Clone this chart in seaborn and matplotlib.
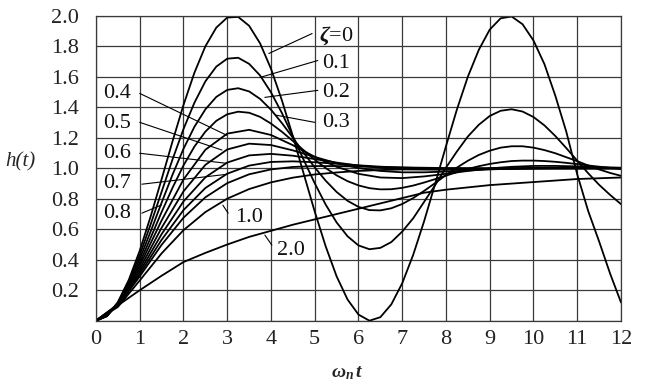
"""
Unit step response of a second-order system h(t) for several damping ratios.
Values read off the reference chart.
"""

import matplotlib
matplotlib.use("Agg")
import matplotlib.pyplot as plt
import pandas as pd
import seaborn as sns

sns.set_style("white")
plt.rcParams["font.family"] = ["Liberation Serif", "DejaVu Serif"]
plt.rcParams["mathtext.fontset"] = "custom"
plt.rcParams["mathtext.it"] = "Liberation Serif:italic:bold"
plt.rcParams["mathtext.rm"] = "Liberation Serif:bold"

INK = "black"
GRID = "#3a3a3a"

# time axis (omega_n * t)
t_fine = [i * 0.25 for i in range(49)]
t_coarse = [i * 0.5 for i in range(25)]

# strongly oscillating curves, read on the fine grid
h_z00 = [0, 0.031, 0.122, 0.268, 0.460, 0.685, 0.929, 1.178, 1.416, 1.628,
         1.801, 1.924, 1.990, 1.994, 1.936, 1.821, 1.654, 1.446, 1.211, 0.962,
         0.716, 0.488, 0.291, 0.139, 0.040, 0.000, 0.023, 0.107, 0.246, 0.432,
         0.653, 0.896, 1.146, 1.387, 1.602, 1.778, 1.911, 1.985, 1.997, 1.946,
         1.839, 1.684, 1.476, 1.240, 0.960, 0.720, 0.520, 0.310, 0.120]
h_z01 = [0, 0.031, 0.118, 0.256, 0.431, 0.633, 0.846, 1.059, 1.258, 1.431,
         1.571, 1.668, 1.720, 1.726, 1.686, 1.610, 1.499, 1.363, 1.210, 1.054,
         0.902, 0.762, 0.645, 0.554, 0.494, 0.469, 0.478, 0.516, 0.585, 0.672,
         0.780, 0.889, 1.005, 1.111, 1.209, 1.286, 1.344, 1.378, 1.388, 1.373,
         1.337, 1.282, 1.212, 1.133, 1.050, 0.968, 0.892, 0.826, 0.765]
h_z02 = [0, 0.030, 0.115, 0.244, 0.405, 0.586, 0.775, 0.959, 1.128, 1.273,
         1.387, 1.469, 1.515, 1.526, 1.505, 1.456, 1.385, 1.297, 1.201, 1.101,
         1.006, 0.919, 0.845, 0.787, 0.747, 0.726, 0.724, 0.738, 0.766, 0.805,
         0.852, 0.903, 0.956, 1.005, 1.050, 1.088, 1.116, 1.136, 1.145, 1.145,
         1.136, 1.120, 1.099, 1.073, 1.047, 1.019, 0.993, 0.970, 0.951]
h_z03 = [0, 0.030, 0.111, 0.232, 0.381, 0.545, 0.713, 0.873, 1.019, 1.143,
         1.241, 1.312, 1.355, 1.372, 1.365, 1.338, 1.294, 1.240, 1.180, 1.118,
         1.057, 1.002, 0.954, 0.916, 0.888, 0.870, 0.862, 0.863, 0.872, 0.887,
         0.907, 0.929, 0.952, 0.975, 0.996, 1.014, 1.029, 1.040, 1.048, 1.051,
         1.051, 1.048, 1.043, 1.036, 1.028, 1.019, 1.011, 1.003, 0.996]

# better damped curves on the coarse grid
h_z04 = [0, 0.108, 0.360, 0.658, 0.927, 1.122, 1.228, 1.253, 1.219, 1.152,
         1.076, 1.010, 0.964, 0.940, 0.936, 0.947, 0.964, 0.983, 1.000, 1.010,
         1.016, 1.016, 1.013, 1.008, 1.004]
h_z05 = [0, 0.104, 0.340, 0.610, 0.849, 1.023, 1.124, 1.162, 1.153, 1.118,
         1.075, 1.034, 1.002, 0.983, 0.974, 0.974, 0.979, 0.986, 0.993, 0.998,
         1.002, 1.004, 1.004, 1.004, 1.003]
h_z06 = [0, 0.101, 0.322, 0.568, 0.783, 0.941, 1.038, 1.085, 1.095, 1.083,
         1.061, 1.038, 1.018, 1.004, 0.995, 0.992, 0.991, 0.992, 0.995, 0.997,
         0.999, 1.000, 1.000, 1.000, 1.000]
h_z07 = [0, 0.098, 0.306, 0.531, 0.726, 0.871, 0.965, 1.018, 1.042, 1.046,
         1.040, 1.030, 1.020, 1.011, 1.005, 1.001, 0.999, 0.998, 0.998, 0.999,
         0.999, 1.000, 1.000, 1.000, 1.000]
h_z08 = [0, 0.096, 0.291, 0.498, 0.676, 0.810, 0.903, 0.961, 0.993, 1.009,
         1.015, 1.015, 1.012, 1.009, 1.006, 1.004, 1.002, 1.001, 1.000, 1.000,
         1.000, 1.000, 1.000, 1.000, 1.000]
h_z10 = [0, 0.090, 0.264, 0.442, 0.594, 0.713, 0.801, 0.864, 0.908, 0.939,
         0.960, 0.973, 0.983, 0.989, 0.993, 0.995, 0.997, 0.998, 0.999, 0.999,
         1.000, 1.000, 1.000, 1.000, 1.000]
h_z20 = [0, 0.100, 0.200, 0.295, 0.385, 0.445, 0.500, 0.550, 0.590, 0.630,
         0.665, 0.700, 0.735, 0.770, 0.805, 0.840, 0.860, 0.875, 0.890, 0.900,
         0.910, 0.920, 0.930, 0.935, 0.940]

zetas = ["0", "0.1", "0.2", "0.3", "0.4", "0.5", "0.6", "0.7", "0.8", "1.0", "2.0"]
curves = [h_z00, h_z01, h_z02, h_z03, h_z04, h_z05, h_z06, h_z07, h_z08,
          h_z10, h_z20]

x_ticks = list(range(13))
y_ticks = [0, 0.2, 0.4, 0.6, 0.8, 1.0, 1.2, 1.4, 1.6, 1.8, 2.0]
y_ticklabels = [""] + ["0.2", "0.4", "0.6", "0.8", "1.0", "1.2", "1.4",
                       "1.6", "1.8", "2.0"]

# curve labels: text, text position, leader start, leader end
labels = [
    (r"$\zeta$=0", (5.10, 1.872), (4.94, 1.885), (3.95, 1.754)),
    ("0.1", (5.17, 1.689), (5.07, 1.708), (3.75, 1.597)),
    ("0.2", (5.17, 1.499), (5.07, 1.512), (3.86, 1.466)),
    ("0.3", (5.17, 1.302), (5.00, 1.302), (4.10, 1.350)),
    ("0.4", (0.16, 1.492), (1.00, 1.492), (2.99, 1.217)),
    ("0.5", (0.16, 1.296), (1.00, 1.302), (2.88, 1.120)),
    ("0.6", (0.16, 1.099), (1.00, 1.099), (2.99, 1.033)),
    ("0.7", (0.16, 0.902), (1.05, 0.896), (2.99, 0.961)),
    ("0.8", (0.16, 0.706), (1.05, 0.706), (1.50, 0.760)),
    ("1.0", (3.18, 0.680), (2.90, 0.758), (3.02, 0.706)),
    ("2.0", (4.14, 0.463), (3.86, 0.562), (4.02, 0.496)),
]


def main():
    rows = []
    for z, hs in zip(zetas, curves):
        ts = t_fine if len(hs) == len(t_fine) else t_coarse
        for t, h in zip(ts, hs):
            rows.append({"zeta": z, "t": t, "h": h})
    df = pd.DataFrame(rows)

    fig = plt.figure(figsize=(6.57, 3.86), dpi=100)
    ax = fig.add_axes([0.1461, 0.1692, 0.7991, 0.7893])

    sns.lineplot(data=df, x="t", y="h", units="zeta", estimator=None,
                 color=INK, linewidth=1.3, sort=False, legend=False, ax=ax)

    ax.set_xlim(0, 12)
    ax.set_ylim(0, 2.0)
    ax.set_xticks(x_ticks)
    ax.set_xticklabels([str(v) for v in x_ticks])
    ax.set_yticks(y_ticks)
    ax.set_yticklabels(y_ticklabels)
    ax.grid(True, color=GRID, linewidth=0.9)
    ax.set_axisbelow(True)
    ax.tick_params(axis="both", length=0, labelsize=16, colors="#222222")
    ax.tick_params(axis="y", pad=12)
    ax.tick_params(axis="x", pad=7)
    for sp in ax.spines.values():
        sp.set_color(GRID)
        sp.set_linewidth(0.9)
    ax.set_xlabel("")
    ax.set_ylabel("")

    for text, pos, start, end in labels:
        ax.text(pos[0], pos[1], text, ha="left", va="center", fontsize=16,
                color="#111111")
        ax.annotate("", xy=end, xytext=start,
                    arrowprops=dict(arrowstyle="-", color=INK, lw=0.8,
                                    shrinkA=0, shrinkB=0))

    fig.text(20 / 657, 1 - 162 / 386, "h(t)", fontsize=15, style="italic",
             ha="center", va="center")
    fig.text(347 / 657, 1 - 373 / 386, r"$\omega_n\,t$", fontsize=14,
             ha="center", va="center")

    fig.savefig("out.png", dpi=100)
    plt.close(fig)


if __name__ == "__main__":
    main()
